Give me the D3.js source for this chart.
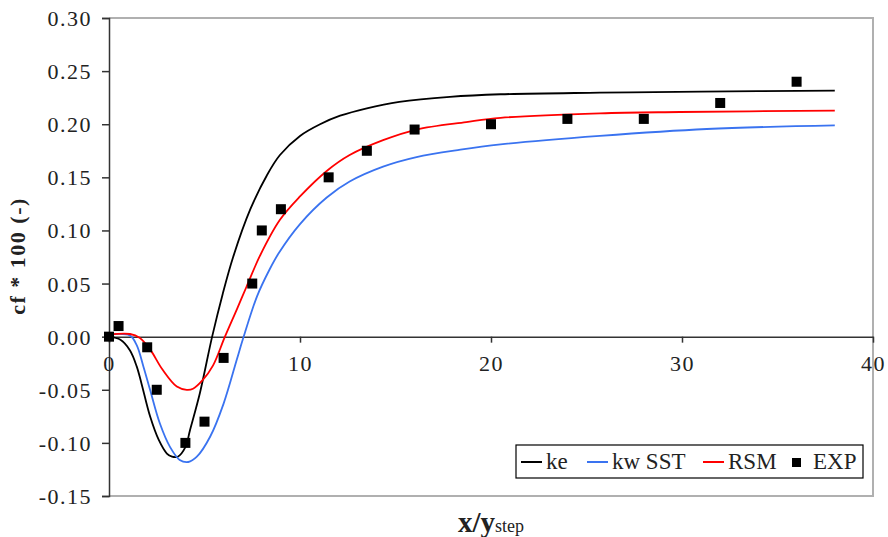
<!DOCTYPE html>
<html>
<head>
<meta charset="utf-8">
<script src="https://cdn.jsdelivr.net/npm/d3@7"></script>
<style>
  body { margin: 0; background: #fff; }
</style>
</head>
<body>
<div id="chart"></div>
<script>
// series: [x/ystep, cf*100]
var keData = [[0, 0], [0.6, -0.003], [1.1, -0.013], [1.45, -0.028], [1.7, -0.044], [2.15, -0.075], [2.6, -0.097], [3.03, -0.11], [3.3, -0.113], [3.6, -0.113], [4.0, -0.104], [4.24, -0.088], [4.76, -0.053], [5.4, 0.0], [5.95, 0.04], [6.5, 0.075], [7.4, 0.12], [8.27, 0.152], [8.95, 0.171], [10, 0.189], [11.05, 0.2], [12.1, 0.208], [13.5, 0.215], [15.2, 0.221], [17.85, 0.2258], [20.5, 0.2282], [25.7, 0.2297], [31, 0.2307], [38, 0.2316]];
var kwData = [[0, 0.002], [1.1, 0.001], [1.45, -0.008], [1.8, -0.028], [2.15, -0.05], [2.67, -0.082], [3.2, -0.104], [3.7, -0.116], [4.15, -0.118], [4.6, -0.113], [5.3, -0.094], [6.0, -0.063], [6.7, -0.021], [7.0, -0.003], [7.75, 0.038], [8.4, 0.063], [8.9, 0.079], [10, 0.106], [11.4, 0.131], [12.6, 0.146], [14.35, 0.16], [16.1, 0.169], [18.4, 0.176], [20.5, 0.181], [25.7, 0.189], [31.3, 0.1955], [38, 0.199]];
var rsmData = [[0, 0.002], [1.1, 0.0025], [1.6, -0.001], [2.15, -0.012], [2.8, -0.031], [3.55, -0.047], [4.07, -0.05], [4.4, -0.049], [4.9, -0.041], [5.45, -0.027], [6.07, 0.0], [6.7, 0.026], [7.2, 0.047], [7.9, 0.076], [8.95, 0.11], [10, 0.132], [11.4, 0.156], [12.6, 0.171], [14.35, 0.185], [16.1, 0.195], [18.7, 0.202], [20.5, 0.206], [25.7, 0.2103], [29.9, 0.2115], [38, 0.2128]];
var expX = [0, 0.5, 2, 2.5, 4, 5, 6, 7.5, 8, 9, 11.5, 13.5, 16, 20, 24, 28, 32, 36];
var expY = [0, 0.01, -0.01, -0.05, -0.1, -0.08, -0.02, 0.05, 0.1, 0.12, 0.15, 0.175, 0.195, 0.2, 0.205, 0.205, 0.22, 0.24];
var xTicks = [0, 10, 20, 30, 40];
var yTicks = [-0.15, -0.1, -0.05, 0, 0.05, 0.1, 0.15, 0.2, 0.25, 0.3];
var seriesNames = ["ke", "kw SST", "RSM", "EXP"];
var seriesColors = ["#000000", "#3a73f0", "#ff0000", "#000000"];

var FONT = "'Liberation Serif', 'DejaVu Serif', serif";
var W = 888, H = 537;
var svg = d3.select("#chart").append("svg").attr("width", W).attr("height", H)
    .style("font-family", FONT);

var x = d3.scaleLinear().domain([0, 40]).range([109, 873]);
var y = d3.scaleLinear().domain([-0.15, 0.3]).range([496, 18]);

// plot frame (grey top/right/bottom)
svg.append("path")
    .attr("d", "M" + x(0) + "," + y(0.3) + "H" + x(40) + "V" + y(-0.15) + "H" + x(0))
    .attr("fill", "none").attr("stroke", "#b0b0b0").attr("stroke-width", 2);

// y axis
var yAxis = d3.axisLeft(y).tickValues(yTicks).tickSize(7).tickPadding(10)
    .tickFormat(function (d) { return d3.format(".2f")(d).replace("\u2212", "-"); });
var gy = svg.append("g").attr("transform", "translate(" + x(0) + ",0)").call(yAxis)
    .attr("font-family", null).attr("font-size", null);
gy.select(".domain").attr("stroke", "#333").attr("stroke-width", 1.5);
gy.selectAll(".tick line").attr("stroke", "#333").attr("stroke-width", 1.5);
gy.selectAll(".tick text").style("font-family", FONT).style("font-size", "22px")
    .style("letter-spacing", "1.5px").attr("fill", "#222").attr("dy", "0.34em");

// x axis at y=0
var xAxis = d3.axisBottom(x).tickValues(xTicks).tickSize(6).tickPadding(13).tickSizeOuter(0);
var gx = svg.append("g").attr("transform", "translate(0," + y(0) + ")").call(xAxis)
    .attr("font-family", null).attr("font-size", null);
gx.select(".domain").attr("stroke", "#333").attr("stroke-width", 1.5);
gx.selectAll(".tick line").attr("stroke", "#333").attr("stroke-width", 1.5);
gx.selectAll(".tick text").style("font-family", FONT).style("font-size", "22px")
    .style("letter-spacing", "1.5px").attr("fill", "#222");

// lines
var line = d3.line().x(function (d) { return x(d[0]); }).y(function (d) { return y(d[1]); }).curve(d3.curveCatmullRom.alpha(0.5));
[keData, kwData, rsmData].forEach(function (s, i) {
    svg.append("path").datum(s).attr("d", line).attr("fill", "none")
        .attr("stroke", seriesColors[i]).attr("stroke-width", 1.8);
});

// experimental points
svg.append("g").selectAll("rect").data(expX).enter().append("rect")
    .attr("x", function (d) { return x(d) - 5; })
    .attr("y", function (d, i) { return y(expY[i]) - 5; })
    .attr("width", 10).attr("height", 10).attr("fill", "#000");

// axis titles
svg.append("text").attr("transform", "translate(25,256) rotate(-90)")
    .attr("text-anchor", "middle").style("font-size", "22px").style("font-weight", "bold")
    .style("letter-spacing", "1.5px").attr("fill", "#222").text("cf * 100 (-)");
var xt = svg.append("text").attr("x", 491).attr("y", 532).attr("text-anchor", "middle")
    .style("font-weight", "bold").attr("fill", "#222");
xt.append("tspan").style("font-size", "29px").text("x/y");
xt.append("tspan").style("font-size", "18px").style("font-weight", "normal").text("step");

// legend
var lg = svg.append("g");
lg.append("rect").attr("x", 516).attr("y", 445).attr("width", 347).attr("height", 33)
    .attr("fill", "#fff").attr("stroke", "#000").attr("stroke-width", 1.2);
var lx = [521, 587, 703, 792];
seriesNames.forEach(function (n, i) {
    if (i < 3) {
        lg.append("line").attr("x1", lx[i]).attr("x2", lx[i] + 21).attr("y1", 462).attr("y2", 462)
            .attr("stroke", seriesColors[i]).attr("stroke-width", 2);
    } else {
        lg.append("rect").attr("x", lx[i]).attr("y", 458).attr("width", 9).attr("height", 9).attr("fill", "#000");
    }
    lg.append("text").attr("x", lx[i] + (i < 3 ? 25 : 21)).attr("y", 469).style("font-size", "23px")
        .attr("fill", "#222").text(n);
});
</script>
</body>
</html>
